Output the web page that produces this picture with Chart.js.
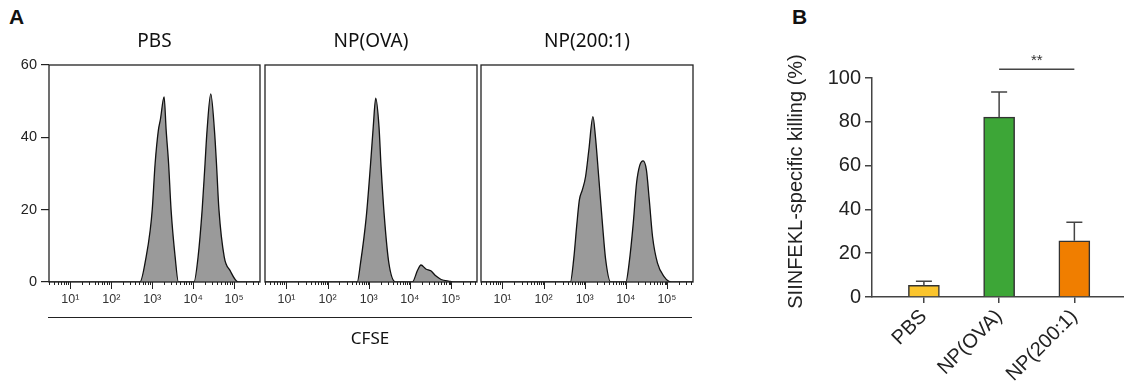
<!DOCTYPE html>
<html>
<head>
<meta charset="utf-8">
<script src="https://cdn.jsdelivr.net/npm/chart.js@4.4.6/dist/chart.umd.js"></script>
<style>
body { margin: 0; background: #fff; }
#wrap { position: relative; width: 1124px; height: 390px; overflow: hidden; }
canvas { position: absolute; top: 0; }
.lbl { position: absolute; color: #111; white-space: nowrap; }
</style>
</head>
<body>
<div id="wrap">
  <div class="lbl" style="left:9px;top:5px;font:bold 21px 'Liberation Sans'">A</div>
  <div class="lbl" style="left:792px;top:5px;font:bold 21px 'Liberation Sans'">B</div>
  <canvas id="h0" width="262" height="330" style="left:0px"></canvas>
  <canvas id="h1" width="216" height="330" style="left:263px"></canvas>
  <canvas id="h2" width="216" height="330" style="left:479px"></canvas>
  <div style="position:absolute;left:48px;top:317px;width:644px;border-top:1.5px solid #222"></div>
  <div class="lbl" style="left:48px;width:644px;top:326px;text-align:center;font:17px 'Noto Sans'">CFSE</div>
  <canvas id="bars" width="344" height="390" style="left:780px"></canvas>
</div>
<script>
// panel A: CFSE histograms
const histTitles = ['PBS', 'NP(OVA)', 'NP(200:1)'];

const pbsCfse = [3, 501, 708, 891, 1000, 1175, 1413, 1585, 1950, 2188, 2512, 2884, 3631, 4365,
  10471, 13183, 16596, 19498, 21878, 26915, 33113, 37154, 42658, 57544, 79433, 125893, 430000];
const pbsCount = [0, 0, 6.9, 14.3, 20, 32.7, 42, 45, 51.2, 42, 32.7, 20, 6.9, 0,
  0, 6.9, 20, 32.7, 42, 52, 42, 32.7, 20, 6.9, 3.2, 0, 0];

const ovaCfse = [3, 525, 631, 871, 1096, 1288, 1479, 1778, 1995, 2399, 3090, 4467,
  11482, 15488, 18621, 24547, 32359, 42658, 57544, 91201, 125893, 430000];
const ovaCount = [0, 0, 5.2, 18, 31.9, 42.9, 50.8, 42.9, 31.9, 18, 5.2, 0,
  0, 3.3, 4.7, 3.6, 3.1, 1.7, 0.7, 0.2, 0, 0];

const np200Cfse = [3, 447, 537, 646, 741, 871, 1047, 1259, 1585, 1820, 2188, 2692, 3236, 4266,
  10000, 12023, 15136, 18197, 21878, 26303, 31623, 37154, 44668, 58884, 85114, 125893, 430000];
const np200Count = [0, 0, 6.1, 16.2, 22.7, 25.4, 29.1, 36.5, 45.7, 40.2, 29.1, 16.2, 6.1, 0,
  0, 5.2, 16.2, 27.3, 32.3, 33.5, 31, 22.7, 12.5, 5.2, 1.5, 0, 0];

const decadeLabels = ['10¹', '10²', '10³', '10⁴', '10⁵'];

// panel B: killing
const groups = ['PBS', 'NP(OVA)', 'NP(200:1)'];
const killing = [5.3, 82.1, 25.7];
const killingErr = [1.9, 11.5, 8.4];
const barColors = ['#fbc52d', '#3da637', '#f07e00'];

function isDecade(v) {
  const e = Math.log10(v);
  return Math.abs(e - Math.round(e)) < 1e-9;
}

// keep tick labels from shrinking the plot area
function noSidePad(s) {
  s.paddingLeft = 0;
  s.paddingRight = 0;
}

const boxPlugin = {
  id: 'box',
  afterDatasetsDraw(chart, args, opts) {
    const { ctx, chartArea: a } = chart;
    const xs = chart.scales.x;
    ctx.save();
    ctx.strokeStyle = '#222';
    ctx.lineWidth = 1.3;
    ctx.strokeRect(a.left, a.top, a.right - a.left, a.bottom - a.top);
    // longer marks at the decades
    ctx.beginPath();
    xs.ticks.forEach(t => {
      if (isDecade(t.value)) {
        const px = Math.round(xs.getPixelForValue(t.value)) + 0.5;
        ctx.moveTo(px, a.bottom);
        ctx.lineTo(px, a.bottom + 7);
      }
    });
    ctx.lineWidth = 1;
    ctx.stroke();
    // panel title, centred over the box
    ctx.fillStyle = '#111';
    ctx.font = '19px "Noto Sans"';
    ctx.textAlign = 'center';
    ctx.textBaseline = 'middle';
    ctx.fillText(opts.text, (a.left + a.right) / 2, 42);
    ctx.restore();
  }
};

function histogram(id, idx, xs, ys) {
  const showY = idx === 0;
  return new Chart(document.getElementById(id), {
    type: 'line',
    data: {
      datasets: [{
        data: xs.map((x, i) => ({ x: x, y: ys[i] })),
        fill: 'origin',
        backgroundColor: '#9a9a9a',
        borderColor: '#111',
        borderWidth: 1.3,
        pointRadius: 0,
        cubicInterpolationMode: 'monotone'
      }]
    },
    options: {
      responsive: false,
      animation: false,
      layout: { padding: { left: showY ? 0 : 2, right: 2, top: 65, bottom: 0 } },
      plugins: {
        legend: { display: false },
        tooltip: { enabled: false },
        box: { text: histTitles[idx] }
      },
      scales: {
        x: {
          type: 'logarithmic',
          min: 3,
          max: 430000,
          afterFit: s => { s.height = 48; noSidePad(s); },
          afterBuildTicks: s => {
            const t = [];
            for (let e = 0; e <= 5; e++) {
              for (let d = 1; d <= 9; d++) {
                const v = d * Math.pow(10, e);
                if (v >= s.min && v <= s.max) t.push({ value: v });
              }
            }
            s.ticks = t;
          },
          grid: { display: true, drawOnChartArea: false, tickLength: 3, color: '#222', lineWidth: 1 },
          border: { display: false },
          ticks: {
            autoSkip: false,
            maxRotation: 0,
            padding: 7,
            color: '#333',
            font: { family: 'Liberation Sans', size: 12.5 },
            callback: v => isDecade(v) && v >= 10 ? decadeLabels[Math.round(Math.log10(v)) - 1] : ''
          }
        },
        y: {
          min: 0,
          max: 60,
          display: showY,
          afterFit: s => { s.width = showY ? 49 : 0; },
          grid: { display: true, drawOnChartArea: false, tickLength: 8, color: '#222', lineWidth: 1.2 },
          border: { display: false },
          ticks: { stepSize: 20, padding: 4, color: '#222', font: { family: 'Liberation Sans', size: 14.5 } }
        }
      }
    },
    plugins: [boxPlugin]
  });
}

histogram('h0', 0, pbsCfse, pbsCount);
histogram('h1', 1, ovaCfse, ovaCount);
histogram('h2', 2, np200Cfse, np200Count);

const errPlugin = {
  id: 'err',
  afterDatasetsDraw(chart) {
    const { ctx } = chart;
    const x = chart.scales.x;
    const y = chart.scales.y;
    const meta = chart.getDatasetMeta(0);
    ctx.save();
    ctx.strokeStyle = '#444';
    ctx.lineWidth = 1.5;
    ctx.beginPath();
    meta.data.forEach((bar, i) => {
      const top = y.getPixelForValue(killing[i] + killingErr[i]);
      ctx.moveTo(bar.x, bar.y);
      ctx.lineTo(bar.x, top);
      ctx.moveTo(bar.x - 8, top);
      ctx.lineTo(bar.x + 8, top);
    });
    ctx.stroke();

    // significance bracket between NP(OVA) and NP(200:1)
    const sy = y.getPixelForValue(104);
    const x1 = x.getPixelForValue(1);
    const x2 = x.getPixelForValue(2);
    ctx.beginPath();
    ctx.moveTo(x1, sy);
    ctx.lineTo(x2, sy);
    ctx.stroke();
    ctx.fillStyle = '#333';
    ctx.font = '15px "Liberation Sans"';
    ctx.textAlign = 'center';
    ctx.textBaseline = 'alphabetic';
    ctx.fillText('**', (x1 + x2) / 2, sy - 4);

    // y axis title
    ctx.translate(16, 181.5);
    ctx.rotate(-Math.PI / 2);
    ctx.fillStyle = '#222';
    ctx.font = '20px "Liberation Sans"';
    ctx.textBaseline = 'middle';
    ctx.fillText('SIINFEKL-specific killing (%)', 0, 0);
    ctx.restore();
  }
};

new Chart(document.getElementById('bars'), {
  type: 'bar',
  data: {
    datasets: [{
      data: groups.map((g, i) => ({ x: i, y: killing[i] })),
      backgroundColor: barColors,
      borderColor: '#333',
      borderWidth: 1.5,
      barThickness: 31
    }]
  },
  options: {
    responsive: false,
    animation: false,
    layout: { padding: { top: 78, right: 0, left: 0, bottom: 0 } },
    plugins: { legend: { display: false }, tooltip: { enabled: false } },
    scales: {
      x: {
        type: 'linear',
        offset: false,
        min: -0.69,
        max: 2.66,
        afterBuildTicks: s => { s.ticks = groups.map((g, i) => ({ value: i })); },
        afterFit: s => { s.height = 93; noSidePad(s); },
        grid: { drawOnChartArea: false, offset: false, tickLength: 6, color: '#444', lineWidth: 1.5 },
        border: { color: '#444', width: 1.5 },
        ticks: {
          autoSkip: false,
          minRotation: 45,
          maxRotation: 45,
          padding: 2,
          color: '#222',
          font: { family: 'Liberation Sans', size: 20 },
          callback: v => groups[v]
        }
      },
      y: {
        min: 0,
        max: 100,
        afterFit: s => { s.width = 92; },
        grid: { drawOnChartArea: false, tickLength: 7, color: '#444', lineWidth: 1.5 },
        border: { color: '#444', width: 1.5 },
        ticks: { stepSize: 20, padding: 4, color: '#222', font: { family: 'Liberation Sans', size: 20 } }
      }
    }
  },
  plugins: [errPlugin]
});
</script>
</body>
</html>
